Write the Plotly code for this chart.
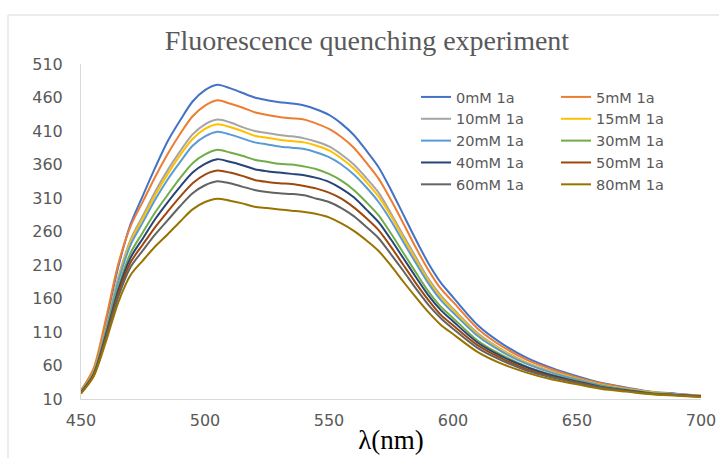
import plotly.graph_objects as go

wavelength = [450, 455, 460, 465, 470, 475, 480, 485, 490, 495, 500, 505, 510, 515, 520,
              525, 530, 535, 540, 545, 550, 555, 560, 565, 570, 575, 580, 585, 590, 595,
              600, 610, 620, 630, 640, 650, 660, 670, 680, 690, 700]

s0 = [22, 52, 124, 207, 271, 314, 356, 395, 426, 454, 471, 479, 474, 467, 460,
      456, 453, 451, 448, 442, 434, 421, 404, 381, 356, 322, 285, 248, 213, 184,
      162, 120, 92, 71, 56, 44, 34, 27, 21, 18, 15]
s5 = [23, 55, 129, 211, 268, 305, 342, 376, 406, 432, 448, 456, 451, 445, 438,
      434, 431, 429, 427, 421, 413, 401, 385, 363, 339, 307, 272, 236, 203, 175,
      155, 115, 88, 68, 54, 42, 33, 26, 20, 17, 15]
s10 = [21, 49, 115, 191, 248, 284, 320, 352, 380, 405, 420, 427, 423, 416, 410,
       407, 404, 402, 399, 394, 387, 375, 360, 340, 318, 287, 254, 222, 190, 165,
       145, 108, 83, 64, 51, 40, 31, 25, 20, 17, 14]
s15 = [21, 49, 114, 188, 245, 280, 315, 346, 374, 398, 413, 420, 416, 410, 403,
       400, 397, 395, 393, 388, 381, 369, 354, 334, 312, 283, 250, 218, 187, 162,
       143, 106, 82, 63, 50, 40, 31, 25, 20, 17, 14]
s20 = [21, 48, 112, 185, 240, 274, 308, 338, 364, 388, 402, 409, 405, 399, 393,
       390, 387, 385, 383, 378, 371, 360, 345, 326, 304, 276, 244, 213, 183, 158,
       139, 104, 80, 62, 49, 39, 30, 24, 19, 17, 14]
s30 = [20, 47, 107, 176, 228, 259, 289, 315, 340, 362, 375, 382, 378, 373, 367,
       364, 361, 360, 357, 353, 346, 336, 322, 304, 284, 257, 228, 199, 171, 148,
       131, 97, 75, 58, 46, 37, 29, 23, 19, 16, 14]
s40 = [20, 46, 105, 172, 221, 250, 279, 304, 327, 348, 361, 368, 364, 359, 353,
       350, 348, 346, 344, 340, 334, 324, 311, 293, 274, 248, 220, 192, 165, 143,
       126, 94, 73, 57, 45, 36, 28, 23, 18, 16, 14]
s50 = [19, 45, 102, 167, 214, 241, 267, 290, 312, 332, 345, 351, 348, 343, 337,
       334, 332, 331, 328, 324, 318, 309, 296, 280, 262, 237, 210, 183, 158, 136,
       120, 90, 70, 54, 43, 35, 27, 22, 18, 16, 14]
s60 = [19, 44, 99, 162, 207, 232, 256, 277, 298, 317, 329, 335, 332, 327, 322,
       319, 317, 316, 314, 309, 304, 295, 283, 267, 250, 226, 201, 175, 151, 131,
       115, 86, 67, 52, 42, 34, 27, 22, 18, 16, 13]
s80 = [18, 43, 95, 154, 195, 217, 238, 256, 275, 293, 304, 309, 306, 302, 297,
       295, 293, 291, 289, 286, 281, 272, 261, 247, 231, 209, 185, 162, 140, 121,
       107, 80, 62, 49, 39, 32, 25, 21, 17, 15, 13]

names = ["0mM 1a", "5mM 1a", "10mM 1a", "15mM 1a", "20mM 1a",
         "30mM 1a", "40mM 1a", "50mM 1a", "60mM 1a", "80mM 1a"]
series = [s0, s5, s10, s15, s20, s30, s40, s50, s60, s80]
colors = ["#4472C4", "#ED7D31", "#A5A5A5", "#FFC000", "#5B9BD5",
          "#70AD47", "#264478", "#9E480E", "#636363", "#997300"]

y_ticks = [10, 60, 110, 160, 210, 260, 310, 360, 410, 460, 510]
x_ticks = [450, 500, 550, 600, 650, 700]

fig = go.Figure()
for i, (nm, ys, c) in enumerate(zip(names, series, colors)):
    fig.add_trace(go.Scatter(
        x=wavelength, y=ys, name=nm, mode="lines",
        line=dict(color=c, width=2, shape="spline", smoothing=0.8),
        legend="legend" if i % 2 == 0 else "legend2",
    ))

legend_common = dict(
    font=dict(family="DejaVu Sans", size=14.5, color="#595959"),
    bgcolor="rgba(0,0,0,0)", itemwidth=30, tracegroupgap=0,
    xanchor="left", yanchor="top", orientation="v",
)

fig.update_layout(
    width=719, height=458,
    margin=dict(l=81, r=18, t=64, b=59),
    paper_bgcolor="white", plot_bgcolor="white",
    title=dict(text="Fluorescence quenching experiment",
               font=dict(family="Liberation Serif", size=28, color="#595959"),
               xref="container", x=367 / 719, xanchor="center",
               yref="container", y=1 - 40 / 458, yanchor="middle"),
    xaxis=dict(range=[450, 700], tickvals=x_ticks, showgrid=False, zeroline=False,
               showline=True, linecolor="#D9D9D9", linewidth=1, ticks="",
               automargin=False,
               tickfont=dict(family="DejaVu Sans", size=16, color="#595959"),
               ticklabelstandoff=7,
               title=dict(text="λ(nm)", font=dict(family="Liberation Serif", size=27, color="#000000"),
                          standoff=0)),
    yaxis=dict(range=[10, 510], tickvals=y_ticks, showgrid=False, zeroline=False,
               showline=True, linecolor="#D9D9D9", linewidth=1, ticks="",
               automargin=False,
               tickfont=dict(family="DejaVu Sans", size=16, color="#595959"),
               ticklabelstandoff=14),
    legend=dict(x=(416 - 81) / 620, y=(399 - 81) / 335, **legend_common),
    legend2=dict(x=(556 - 81) / 620, y=(399 - 81) / 335, **legend_common),
    shapes=[dict(type="rect", xref="paper", yref="paper",
                 x0=(8 - 81) / 620, x1=1.1, y0=-0.3, y1=(399 - 15) / 335,
                 line=dict(color="#D9D9D9", width=1), fillcolor="rgba(0,0,0,0)", layer="below")],
    showlegend=True,
)

fig.write_html("out.html", config={"displayModeBar": False},
               post_script="document.body.style.margin='0';")
